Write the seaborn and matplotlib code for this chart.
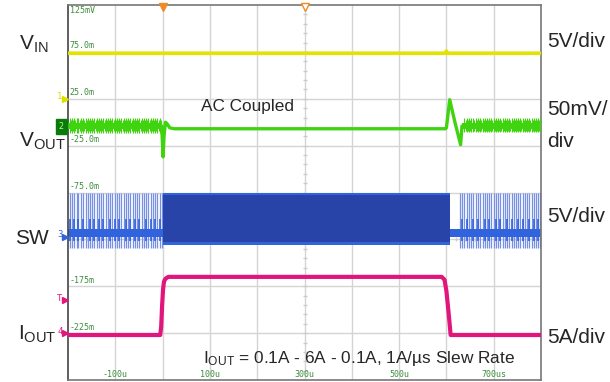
import numpy as np
import pandas as pd
import matplotlib
matplotlib.use("Agg")
import matplotlib.pyplot as plt
import seaborn as sns

# scope screen: time in us, vertical in the scope's mV grid units (50 per div)
grid_t = [-200, -100, 0, 100, 200, 300, 400, 500, 600, 700, 800]
grid_v = [125, 75, 25, -25, -75, -125, -175, -225, -275]
ylab_v = [125, 75, 25, -25, -75, -125, -175, -225]
ylab_txt = ["125mV", "75.0m", "25.0m", "-25.0m", "-75.0m", "-125m", "-175m", "-225m"]
xlab_t = [-100, 100, 300, 500, 700]
xlab_txt = ["-100u", "100u", "300u", "500u", "700us"]

# VIN (yellow)
vin_t = [-200, 599, 600, 601, 800]
vin_v = [73.5, 73.5, 76, 73.5, 73.5]

# VOUT (green) quiet part + transients
vout_t = [-2, 0, 1, 3, 6, 10, 15, 25, 598, 600, 607, 618, 630, 633]
vout_v = [-4, -25, -37, -15, 0, -2, -6, -7, -7, -6, 24, 0, -24, -4]
vout_noise_hi = 4
vout_noise_lo = -11.5
vout_noise_spans = [(-200, -2), (633, 800)]

# SW (blue)
sw_pre = [-196, -191, -187, -182, -178, -172, -168, -163, -158, -154, -149, -144, -139,
          -135, -130, -125, -120, -116, -111, -106, -101, -97, -92, -87, -82, -78, -73,
          -68, -63, -59, -54, -49, -44, -40, -35, -30, -25, -21, -16, -11, -6, -2]
sw_post = [629, 633, 638, 643, 647, 653, 657, 662, 667, 671, 677, 681, 686, 690, 695,
           700, 705, 709, 714, 719, 723, 728, 733, 738, 742, 747, 752, 756, 761, 766,
           770, 775, 780, 785, 789, 794, 798]
sw_mid_pre = [-196, -187, -178, -168, -154, -144, -135, -125, -111, -101, -92, -78,
              -68, -59, -49, -35, -25, -16, -6]
sw_mid_post = [633, 643, 657, 667, 681, 690, 705, 714, 728, 738, 752, 761, 775, 785, 794]
sw_base = -118
sw_top = -75
sw_bot = -134
sw_block_t = [0, 607]
sw_block_lo = -131

# IOUT (magenta)
iout_t = [-200, -5, -3, -1, 1, 3, 6, 12, 590, 596, 600, 604, 609, 800]
iout_v = [-227, -227, -218, -195, -178, -170, -167, -165, -165, -168, -180, -200, -227, -227]

YEL = "#e3e300"
GRN = "#3fd40f"
BLU = "#3163dc"
BLU_DK = "#2944a8"
BLU_LT = "#7590e6"
MAG = "#e2157d"
TICKC = "#3c8c3c"

sns.set_style("white")
plt.rcParams['font.family'] = ['Liberation Sans', 'DejaVu Sans']
plt.rcParams['mathtext.default'] = 'regular'

fig = plt.figure(figsize=(6.1, 3.82), dpi=100)
W, H = 610, 382
ax = fig.add_axes([68 / W, 2 / H, (541 - 68) / W, (380 - 5) / H])
ax.set_xlim(-200, 800)
ax.set_ylim(-275, 125)

for t in grid_t[1:-1]:
    ax.axvline(t, color="#d4d4d4", lw=1, zorder=0)
for v in grid_v[1:-1]:
    ax.axhline(v, color="#d4d4d4", lw=1, zorder=0)
# centre line minor ticks
ax.plot(np.arange(-200, 801, 20), [-125] * 51, ls="", marker="|", ms=2.5, color="#cccccc", zorder=0)
ax.plot([300] * 41, np.arange(-275, 126, 10), ls="", marker="_", ms=2.5, color="#cccccc", zorder=0)

ax.set_xticks([])
ax.set_yticks([])
for s in ax.spines.values():
    s.set_color("#777777")
    s.set_linewidth(1.2)
ax.spines["left"].set_color("#444444")

for v, s in zip(ylab_v, ylab_txt):
    if v == 125:
        ax.text(-196, v - 1.5, s, family="DejaVu Sans Mono", fontsize=6, color=TICKC,
                ha="left", va="top", zorder=1)
    else:
        ax.text(-196, v + 1.5, s, family="DejaVu Sans Mono", fontsize=6, color=TICKC,
                ha="left", va="bottom", zorder=1)
for t, s in zip(xlab_t, xlab_txt):
    ax.text(t, -269, s, family="DejaVu Sans Mono", fontsize=6, color=TICKC,
            ha="center", va="center", zorder=1)

# VIN
sns.lineplot(x=vin_t, y=vin_v, color=YEL, lw=2.6, sort=False, estimator=None, ax=ax, zorder=3)

# VOUT
for a, b in vout_noise_spans:
    ax.fill_between([a, b], -7, -1, color=GRN, lw=0, zorder=3)
pulses = sw_pre + sw_post
ax.vlines([t for t in pulses if t < -2], vout_noise_lo, vout_noise_hi, color=GRN, lw=0.8, zorder=3)
ax.vlines([t + 2.4 for t in pulses if t < -4], vout_noise_lo + 2, vout_noise_hi - 1.5, color=GRN, lw=0.8, zorder=3)
ax.vlines([t for t in pulses if t > 633], vout_noise_lo + 1, vout_noise_hi, color=GRN, lw=0.8, zorder=3)
ax.vlines([t + 2.4 for t in pulses if t > 633], vout_noise_lo + 2, vout_noise_hi - 1.5, color=GRN, lw=0.8, zorder=3)
sns.lineplot(x=vout_t, y=vout_v, color=GRN, lw=2.4, sort=False, estimator=None, ax=ax, zorder=3)

# SW
ax.vlines(sw_pre + sw_post, sw_bot, sw_top, color=BLU_LT, lw=0.9, zorder=2)
ax.vlines(sw_mid_pre + sw_mid_post, -127, -103, color=BLU, lw=1.2, zorder=2)
ax.fill_between(sw_block_t, sw_block_lo, sw_top, color=BLU_DK, lw=0, zorder=2)
ax.fill_between(sw_block_t, sw_top - 3, sw_top, color=BLU, lw=0, zorder=2)
ax.fill_between(sw_block_t, sw_block_lo, sw_block_lo + 3, color=BLU, lw=0, zorder=2)
ax.fill_between([-200, 0], sw_base - 4.5, sw_base + 4.5, color=BLU, lw=0, zorder=2)
ax.fill_between([607, 800], sw_base - 4.5, sw_base + 4.5, color=BLU, lw=0, zorder=2)

# IOUT
sns.lineplot(x=iout_t, y=iout_v, color=MAG, lw=3.0, sort=False, estimator=None, ax=ax, zorder=3)

# trigger markers on top
ax.plot([0], [123], marker="v", ms=6, color="#f08a24", clip_on=False, zorder=5)
ax.plot([300], [123], marker="v", ms=6, mfc="white", mec="#f08a24", clip_on=False, zorder=5)

# channel markers at the left edge
def chmark(v, label, col):
    ax.plot([-207], [v], marker=">", ms=4, color=col, clip_on=False, zorder=5)
    ax.text(-217, v + 2, label, fontsize=6.5, color=col, ha="center", va="center",
            family="DejaVu Sans Mono", clip_on=False)

chmark(25, "1", "#dddd00")
chmark(-122, "3", BLU)
chmark(-190, "T", MAG)
chmark(-225, "4", MAG)
ax.text(-214, -5, "2", fontsize=6, color="#b8ff90", ha="center", va="center", family="DejaVu Sans Mono",
        clip_on=False, zorder=6, bbox=dict(boxstyle="square,pad=0.35", fc="#0a7a0a", ec="#0a7a0a"))

def ftext(px, py, s, **kw):
    fig.text(px / W, 1 - py / H, s, va="baseline", **kw)

ftext(19, 50, "V$_{IN}$", fontsize=15)
ftext(19, 147, "V$_{OUT}$", fontsize=15)
ftext(15, 243.5, "SW", fontsize=15)
ftext(18, 340, "I$_{OUT}$", fontsize=15)
ftext(547, 47, "5V/div", fontsize=15)
ftext(547, 115, "50mV/", fontsize=15)
ftext(547, 147, "div", fontsize=15)
ftext(547, 222, "5V/div", fontsize=15)
ftext(547, 343, "5A/div", fontsize=15)
ftext(201, 111, "AC Coupled", fontsize=12.4)
ftext(203, 363, "I$_{OUT}$ = 0.1A - 6A - 0.1A, 1A/µs Slew Rate", fontsize=12.4)

fig.savefig("out.png", dpi=100)
